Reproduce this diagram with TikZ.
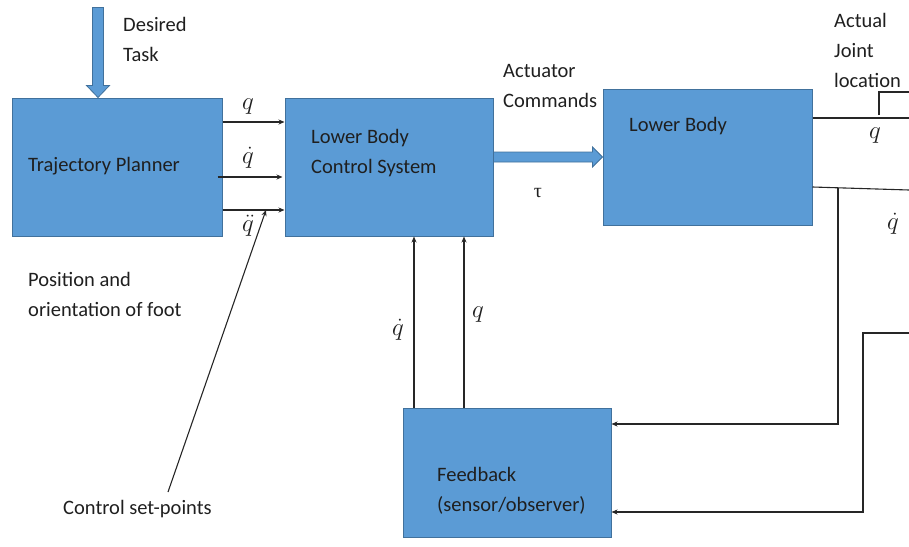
\documentclass[tikz,border=0pt]{standalone}
\usepackage{fontspec}
\setmainfont{Carlito}
\newfontfamily\greekserif{Liberation Serif}
\usetikzlibrary{arrows.meta,calc}
\definecolor{boxfill}{HTML}{5B9BD5}
\definecolor{boxline}{HTML}{41719C}
\definecolor{wire}{HTML}{262626}
\begin{document}
\begin{tikzpicture}[x=1pt,y=-1pt,
  block/.style={draw=boxline,line width=1pt,fill=boxfill,minimum width=#1,inner sep=0pt},
  lbl/.style={font=\fontsize{20.5}{30}\selectfont,text=black!88,inner sep=0pt,align=left,anchor=west},
  sym/.style={font=\fontsize{28}{30}\selectfont,text=black!88,inner sep=0pt},
  wireline/.style={draw=wire,line width=1.1pt},
  sig/.style={wireline,-{Stealth[length=6pt,width=5pt]}},
  fat/.style={draw=boxline,line width=0.8pt,fill=boxfill}]
\useasboundingbox (0,0) rectangle (909,546);

% main blocks
\node[block=210pt,minimum height=138pt] (tp) at (117,167) {};
\node[block=208pt,minimum height=138pt] (lbcs) at (389,167) {};
\node[block=209pt,minimum height=136pt] (lb) at (707.5,157) {};
\node[block=208pt,minimum height=129pt] (fb) at (507,472.5) {};

% block texts
\node[lbl] (tptext) at (28,166) {Trajectory Planner};
\node[lbl] (lbcstext) at (311,153) {Lower Body\\Control System};
\node[lbl] (lbtext) at (629,126) {Lower Body};
\node[lbl] (fbtext) at (437,491) {Feedback\\(sensor/observer)};

% free texts
\node[lbl] (task) at (123,39) {Desired\\Task};
\node[lbl] (pos) at (28,294) {Position and\\orientation of foot};
\node[lbl] (csp) at (63,509) {Control set-points};
\node[lbl] (act) at (503,86) {Actuator\\Commands};
\node[lbl] (ajl) at (834,50) {Actual\\Joint\\location};

% desired task block arrow into the planner
\coordinate (dtip) at ([xshift=-19pt]tp.north);
\filldraw[fat] (dtip) -- ++(-11.5,-12) -- ++(6,0) -- ++(0,-78) -- ++(11,0)
  -- ++(0,78) -- ++(6,0) -- cycle;

% actuator command block arrow
\coordinate (acs) at (lbcs.east |- 0,157);
\coordinate (acte) at (lb.west |- 0,157);
\filldraw[fat] (acs) ++(0,-5) -- ($(acte)+(-10,-5)$) -- ($(acte)+(-10,-10)$)
  -- (acte) -- ($(acte)+(-10,10)$) -- ($(acte)+(-10,5)$) -- ($(acs)+(0,5)$) -- cycle;
\node[lbl,anchor=center,font=\greekserif\fontsize{20}{22}\selectfont] (tau) at (538,193) {τ};

% planner to control system
\draw[sig] (tp.east |- 0,122) -- (lbcs.west |- 0,122);
\draw[sig] ([xshift=-5pt]tp.east |- 0,177) -- ([xshift=-2pt]lbcs.west |- 0,177);
\draw[sig] (tp.east |- 0,210) -- (lbcs.west |- 0,210);
\node[sym] (q1) at (248,107) {$q$};
\node[sym] (qd1) at (248,158) {$\dot q$};
\node[sym] (qdd1) at (248,226) {$\ddot q$};

% set-point pointer
\coordinate (cspend) at (168,492);
\draw[sig] (cspend) -- (266,210);

% feedback to control system
\draw[sig] (fb.north -| 414,0) -- (lbcs.south -| 414,0);
\draw[sig] (fb.north -| 464,0) -- (lbcs.south -| 464,0);
\node[sym] (qd2) at (398,330) {$\dot q$};
\node[sym] (q2) at (478,315) {$q$};

% lower body outputs
\coordinate (qout) at (909,118);
\coordinate (qdout) at (909,190);
\draw[wireline] (lb.east |- 0,118) -- (qout);
\draw[wireline] (879,115) -- (879,92) -- (909,92);
\draw[wireline] (lb.east |- 0,187) -- (qdout);
\node[sym] (q3) at (875,136) {$q$};
\node[sym] (qd3) at (893,224) {$\dot q$};

% measured signals back into the feedback block
\coordinate (tapa) at (838,188);
\coordinate (tapb) at (909,333);
\draw[sig] (tapa) -- (838,424) -- (fb.east |- 0,424);
\draw[sig] (tapb) -- (863,333) -- (863,512) -- (fb.east |- 0,512);
\end{tikzpicture}
\end{document}
